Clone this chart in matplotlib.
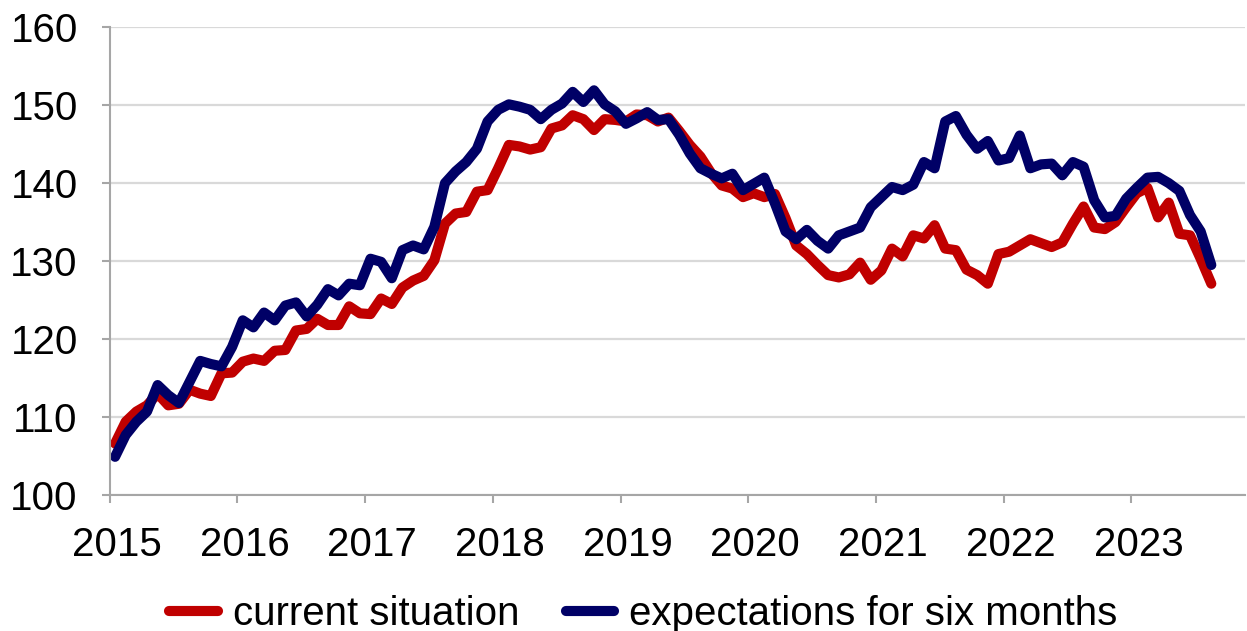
import matplotlib.pyplot as plt
import matplotlib.transforms as mtransforms
import numpy as np

plt.rcParams['font.family'] = ['Liberation Sans', 'DejaVu Sans']

# monthly index values, Jan 2015 - Aug 2023
current = [106.6, 109.4, 110.7, 111.5, 113.0, 111.5, 111.7, 113.5, 113.0, 112.7,
           115.6, 115.7, 117.1, 117.5, 117.2, 118.5, 118.6, 121.1, 121.3, 122.6,
           121.8, 121.8, 124.2, 123.3, 123.2, 125.2, 124.5, 126.6, 127.5, 128.1,
           130.1, 134.8, 136.1, 136.3, 138.9, 139.1, 141.9, 144.9, 144.7, 144.3,
           144.6, 147.0, 147.4, 148.7, 148.2, 146.8, 148.2, 148.1, 147.9, 148.8,
           148.7, 147.9, 148.4, 146.7, 144.9, 143.4, 141.3, 139.7, 139.3, 138.2,
           138.7, 138.2, 138.6, 135.5, 132.0, 130.9, 129.5, 128.2, 127.9, 128.3,
           129.8, 127.6, 128.8, 131.6, 130.6, 133.3, 132.9, 134.6, 131.6, 131.4,
           128.9, 128.2, 127.1, 130.9, 131.2, 132.0, 132.8, 132.3, 131.8, 132.4,
           134.8, 137.0, 134.3, 134.1, 135.0, 136.9, 138.7, 139.4, 135.6, 137.5,
           133.5, 133.3, 130.3, 127.1]
expectations = [104.9, 107.7, 109.4, 110.7, 114.1, 112.8, 111.8, 114.5, 117.2, 116.8,
                116.5, 119.0, 122.4, 121.5, 123.4, 122.4, 124.3, 124.7, 122.9, 124.4,
                126.4, 125.6, 127.1, 126.9, 130.3, 129.9, 127.8, 131.4, 132.0, 131.5,
                134.4, 140.0, 141.5, 142.7, 144.4, 147.9, 149.4, 150.1, 149.8, 149.4,
                148.2, 149.4, 150.2, 151.7, 150.4, 151.9, 150.1, 149.2, 147.6, 148.3,
                149.1, 148.1, 148.2, 146.2, 143.8, 141.9, 141.2, 140.6, 141.2, 139.1,
                139.9, 140.7, 137.4, 133.8, 132.8, 134.0, 132.6, 131.6, 133.3, 133.8,
                134.3, 136.9, 138.2, 139.5, 139.1, 139.8, 142.7, 141.9, 147.9, 148.6,
                146.2, 144.4, 145.4, 142.9, 143.2, 146.1, 141.9, 142.4, 142.5, 141.0,
                142.7, 142.1, 137.8, 135.6, 135.8, 138.0, 139.4, 140.7, 140.8, 140.0,
                139.0, 135.9, 133.8, 129.5]
years = list(range(2015, 2024))
labels = ['current situation', 'expectations for six months']

months = np.arange(len(current))
x = 2015 + (months + 0.5) / 12

fig = plt.figure(figsize=(12.47, 6.31), dpi=100)
ax = fig.add_axes([0.088, 0.2155, 0.91, 0.7415])

line_kw = dict(lw=7.3, solid_capstyle='round', solid_joinstyle='round')
ax.plot(x, current, color='#C00000', label=labels[0], **line_kw)
ax.plot(x, expectations, color='#000066', label=labels[1], **line_kw)

ax.set_xlim(2015, 2023.885)
ax.set_ylim(100, 160)
ax.set_xticks(years)
ax.set_yticks(range(100, 161, 10))
ax.grid(axis='y', color='#D9D9D9', lw=1.6)
ax.set_axisbelow(True)

for s in ['top', 'right']:
    ax.spines[s].set_visible(False)
for s in ['left', 'bottom']:
    ax.spines[s].set_color('#A6A6A6')
    ax.spines[s].set_linewidth(1.5)

ax.tick_params(axis='x', length=6, width=1.5, color='#A6A6A6', labelsize=29, pad=16)
ax.tick_params(axis='y', length=6, width=1.5, color='#A6A6A6', labelsize=29, pad=17)

# year labels sit a little right of their ticks
shift = mtransforms.ScaledTranslation(0.07, 0, fig.dpi_scale_trans)
for lab in ax.get_xticklabels():
    lab.set_transform(lab.get_transform() + shift)

fig.legend(loc='lower center', bbox_to_anchor=(0.516, -0.06), ncol=2, frameon=False,
           fontsize=29, handlelength=1.2, columnspacing=1.15, handletextpad=0.38)

fig.savefig('out.png', dpi=100)
